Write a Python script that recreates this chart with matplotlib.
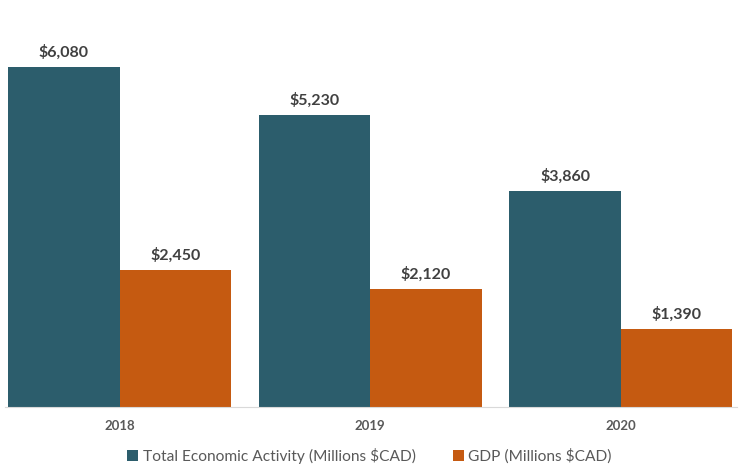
import matplotlib.pyplot as plt
import numpy as np

years = ["2018", "2019", "2020"]
total_activity = [6080, 5230, 3860]
gdp = [2450, 2120, 1390]
series_names = ["Total Economic Activity (Millions $CAD)", "GDP (Millions $CAD)"]

plt.rcParams['font.family'] = ['Lato', 'DejaVu Sans']

fig = plt.figure(figsize=(7.39, 4.67), dpi=100)
ax = fig.add_axes([5/739, 60/467, 732/739, 391/467])

x = np.arange(len(years))
w = 0.445
b1 = ax.bar(x - w/2, total_activity, w, color="#2C5D6C", label=series_names[0])
b2 = ax.bar(x + w/2, gdp, w, color="#C55A11", label=series_names[1])

for bars, vals in [(b1, total_activity), (b2, gdp)]:
    for r, v in zip(bars, vals):
        ax.text(r.get_x() + r.get_width()/2, v + 130, "${:,}".format(v),
                ha="center", va="bottom", fontsize=11.5, fontweight="bold", color="#404040")

ax.set_xlim(-0.457, 2.463)
ax.set_ylim(0, 7000)
ax.set_xticks(x)
ax.set_xticklabels(years, fontsize=9.5, fontweight="bold", color="#595959")
ax.tick_params(axis="x", length=0, pad=9)
ax.set_yticks([])
for s in ["top", "right", "left"]:
    ax.spines[s].set_visible(False)
ax.spines["bottom"].set_color("#D9D9D9")

fig.legend(handles=[b1, b2], loc="center", bbox_to_anchor=(0.5, 1 - 456/467), ncol=2,
           frameon=False, fontsize=11.2, handlelength=0.7, handleheight=0.7,
           handletextpad=0.3, columnspacing=2.4, labelcolor="#595959")

fig.savefig("out.png", dpi=100)
